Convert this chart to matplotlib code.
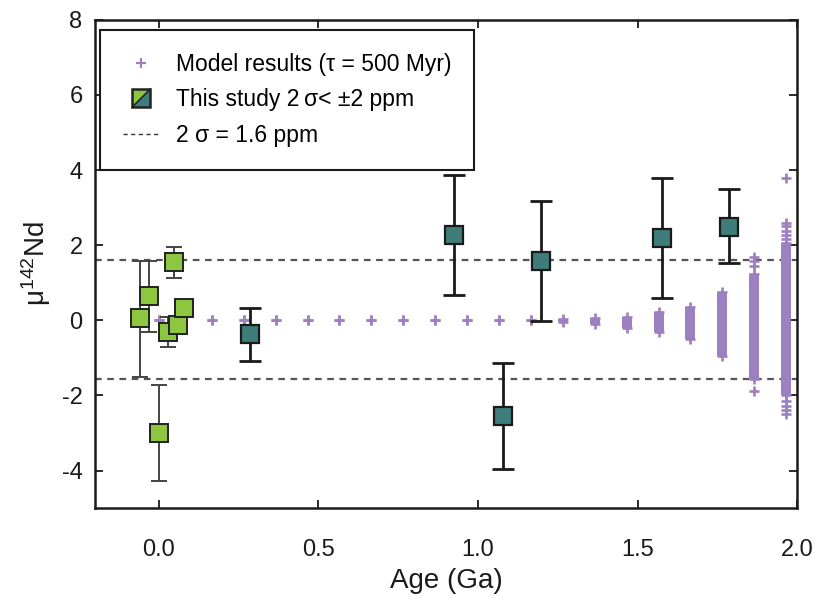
import numpy as np
import matplotlib.pyplot as plt
from matplotlib.legend_handler import HandlerBase
from matplotlib.patches import Polygon, Rectangle
from matplotlib.lines import Line2D

plt.rcParams['font.family'] = ['Liberation Sans', 'DejaVu Sans']
plt.rcParams['mathtext.fontset'] = 'custom'
plt.rcParams['mathtext.rm'] = 'Liberation Sans'
plt.rcParams['mathtext.it'] = 'Liberation Sans:italic'
plt.rcParams['axes.unicode_minus'] = False

# colours
purple = '#9c80c0'
green = '#8dc63f'
teal = '#3f7d7b'

# --- data ---
# model results (tau = 500 Myr): dense range per age, plus loose points
model_age = [0.0, 0.066, 0.166, 0.266, 0.366, 0.466, 0.566, 0.666, 0.766, 0.866,
             0.966, 1.066, 1.166, 1.266, 1.366, 1.466, 1.566, 1.666, 1.766, 1.866, 1.966]
model_lo = [0, 0, 0, 0, 0, 0, 0, 0, 0, 0, 0, 0, 0,
            -0.04, -0.11, -0.20, -0.32, -0.51, -0.96, -1.55, -2.00]
model_hi = [0, 0, 0, 0, 0, 0, 0, 0, 0, 0, 0, 0, 0,
            0.04, 0.06, 0.09, 0.22, 0.35, 0.75, 1.22, 2.05]
loose_age = [1.866, 1.866, 1.866, 1.866,
             1.966, 1.966, 1.966, 1.966, 1.966, 1.966, 1.966, 1.966, 1.966, 1.966]
loose_val = [1.68, 1.57, 1.44, -1.87,
             3.79, 2.60, 2.50, 2.38, 2.27, 2.16, -2.16, -2.29, -2.40, -2.50]

# this study, green samples (age, mu142Nd, upper and lower error bar ends)
green_age = [-0.06, -0.03, 0.047, 0.03, 0.06, 0.08, 0.0]
green_val = [0.05, 0.64, 1.55, -0.32, -0.13, 0.32, -2.99]
green_top = [1.57, 1.57, 1.95, 0.10, -0.13, 0.32, -1.73]
green_bot = [-1.52, -0.32, 1.12, -0.72, -0.13, 0.32, -4.27]

# this study, teal samples
teal_age = [0.287, 0.925, 1.079, 1.198, 1.576, 1.786]
teal_val = [-0.37, 2.27, -2.55, 1.57, 2.18, 2.48]
teal_top = [0.32, 3.87, -1.13, 3.17, 3.79, 3.49]
teal_bot = [-1.09, 0.67, -3.95, -0.03, 0.59, 1.52]

sigma_lines = [1.6, -1.55]

x_ticks = [0.0, 0.5, 1.0, 1.5, 2.0]
y_ticks = [-4, -2, 0, 2, 4, 6, 8]


class SplitSquare:
    pass


class HandlerSplit(HandlerBase):
    def create_artists(self, legend, orig, xdescent, ydescent, width, height,
                       fontsize, trans):
        s = 13.0
        x0 = width / 2 - xdescent - s / 2
        y0 = height / 2 - ydescent - s / 2
        t1 = Polygon([(x0, y0 + s), (x0, y0), (x0 + s, y0 + s)], closed=True,
                     facecolor=green, edgecolor='none', transform=trans)
        t2 = Polygon([(x0, y0), (x0 + s, y0), (x0 + s, y0 + s)], closed=True,
                     facecolor=teal, edgecolor='none', transform=trans)
        diag = Line2D([x0, x0 + s], [y0, y0 + s], color='#222222', lw=1.2,
                      transform=trans)
        box = Rectangle((x0, y0), s, s, facecolor='none', edgecolor='#222222',
                        lw=1.8, transform=trans)
        return [t1, t2, diag, box]


fig = plt.figure(figsize=(8.15, 6.02), dpi=100)
ax = fig.add_axes([0.1166, 0.156, 0.8614, 0.811])

# model cloud
ax.vlines(model_age, model_lo, model_hi, colors=purple, lw=7.2, zorder=2)
ax.plot(model_age, model_lo, '+', color=purple, ms=7.2, mew=1.9, zorder=2)
ax.plot(model_age, model_hi, '+', color=purple, ms=7.2, mew=1.9, zorder=2)
ax.plot(loose_age, loose_val, '+', color=purple, ms=7.2, mew=1.9, zorder=2)

# 2 sigma lines
for yv in sigma_lines:
    ax.axhline(yv, color='#555555', lw=1.6, ls=(0, (3, 2.5)), zorder=1)

# green samples
g_val = np.array(green_val)
g_err = [g_val - np.array(green_bot), np.array(green_top) - g_val]
ax.errorbar(green_age, green_val, yerr=g_err, fmt='none', ecolor='#444444',
            elinewidth=1.4, capsize=5.5, capthick=1.4, zorder=3)
ax.plot(green_age, green_val, 's', ms=13, mfc=green, mec='#222222', mew=1.4,
        zorder=4)

# teal samples
t_val = np.array(teal_val)
t_err = [t_val - np.array(teal_bot), np.array(teal_top) - t_val]
ax.errorbar(teal_age, teal_val, yerr=t_err, fmt='none', ecolor='#1a1a1a',
            elinewidth=2.0, capsize=8, capthick=2.0, zorder=3)
ax.plot(teal_age, teal_val, 's', ms=13.5, mfc=teal, mec='#1a1a1a', mew=1.6,
        zorder=4)

ax.set_xlim(-0.2, 2.0)
ax.set_ylim(-5, 8)
ax.set_xticks(x_ticks)
ax.set_xticklabels([f'{v:.1f}' for v in x_ticks])
ax.set_yticks(y_ticks)
ax.tick_params(direction='in', top=True, right=True, length=6, width=1.3,
               labelsize=17, colors='#1a1a1a')
ax.tick_params(axis='x', pad=22)
ax.tick_params(axis='y', pad=9)
for sp in ax.spines.values():
    sp.set_linewidth(1.8)
    sp.set_color('#1a1a1a')

ax.set_xlabel('Age (Ga)', fontsize=20, color='#1a1a1a')
ax.set_ylabel('μ$^{142}$Nd', fontsize=20, color='#1a1a1a')
ax.xaxis.set_label_coords(0.5, -0.122)
ax.yaxis.set_label_coords(-0.06, 0.5)

h_model = Line2D([], [], marker='+', ls='none', color=purple, ms=6.5, mew=1.6)
h_study = SplitSquare()
h_sigma = Line2D([], [], color='#333333', lw=1.0, ls=(0, (3, 2.5)))
leg = ax.legend([h_model, h_study, h_sigma],
                ['Model results (τ = 500 Myr)', 'This study 2\u2009σ< ±2 ppm',
                 '2 σ = 1.6 ppm'],
                handler_map={SplitSquare: HandlerSplit()},
                loc='upper left', bbox_to_anchor=(0.007, 0.98),
                borderaxespad=0, fontsize=16.5, frameon=True, fancybox=False,
                borderpad=1.0, labelspacing=0.55, handlelength=1.6,
                handletextpad=0.7)
leg.get_frame().set_edgecolor('#1a1a1a')
leg.get_frame().set_linewidth(1.5)
leg.get_frame().set_alpha(1)
leg.set_zorder(5)

fig.savefig('out.png', dpi=100)
